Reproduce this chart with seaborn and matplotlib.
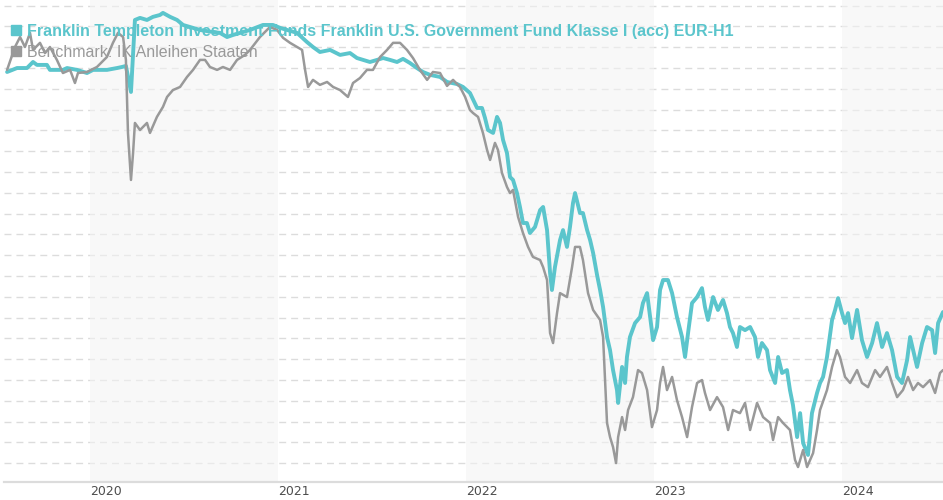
import pandas as pd
import matplotlib
matplotlib.use("Agg")
import matplotlib.pyplot as plt
import seaborn as sns
from matplotlib.lines import Line2D

# fund and benchmark (decimal year, indexed value)
fund_years = [2019.559, 2019.612, 2019.665, 2019.697, 2019.718, 2019.771, 2019.787, 2019.856, 2019.878, 2019.931,
              2019.984, 2020.016, 2020.090, 2020.144, 2020.170, 2020.191, 2020.218, 2020.239, 2020.266, 2020.303,
              2020.335, 2020.372, 2020.388, 2020.426, 2020.463, 2020.495, 2020.532, 2020.585, 2020.654, 2020.691,
              2020.729, 2020.761, 2020.851, 2020.920, 2020.973, 2021.011, 2021.101, 2021.154, 2021.186, 2021.223,
              2021.277, 2021.330, 2021.383, 2021.420, 2021.452, 2021.489, 2021.527, 2021.559, 2021.596, 2021.633,
              2021.665, 2021.702, 2021.739, 2021.771, 2021.809, 2021.862, 2021.899, 2021.952, 2021.984, 2022.021,
              2022.059, 2022.085, 2022.101, 2022.117, 2022.144, 2022.165, 2022.181, 2022.197, 2022.218, 2022.234,
              2022.250, 2022.271, 2022.287, 2022.303, 2022.324, 2022.340, 2022.367, 2022.394, 2022.410, 2022.431,
              2022.447, 2022.457, 2022.473, 2022.500, 2022.516, 2022.537, 2022.553, 2022.569, 2022.580, 2022.606,
              2022.622, 2022.644, 2022.660, 2022.676, 2022.697, 2022.713, 2022.729, 2022.750, 2022.766, 2022.782,
              2022.803, 2022.809, 2022.830, 2022.846, 2022.856, 2022.872, 2022.899, 2022.926, 2022.941, 2022.963,
              2022.979, 2022.995, 2023.016, 2023.032, 2023.048, 2023.074, 2023.096, 2023.122, 2023.149, 2023.165,
              2023.181, 2023.202, 2023.229, 2023.255, 2023.271, 2023.287, 2023.314, 2023.340, 2023.367, 2023.388,
              2023.404, 2023.420, 2023.441, 2023.457, 2023.484, 2023.511, 2023.537, 2023.553, 2023.574, 2023.601,
              2023.617, 2023.644, 2023.660, 2023.681, 2023.707, 2023.723, 2023.739, 2023.761, 2023.777, 2023.793,
              2023.819, 2023.840, 2023.867, 2023.883, 2023.899, 2023.920, 2023.947, 2023.963, 2023.979, 2024.000,
              2024.016, 2024.032, 2024.053, 2024.080, 2024.106, 2024.133, 2024.160, 2024.186, 2024.213, 2024.239,
              2024.266, 2024.293, 2024.319, 2024.346, 2024.362, 2024.378, 2024.399, 2024.426, 2024.452, 2024.479,
              2024.495, 2024.511, 2024.537]
fund_values = [96.81, 97.00, 97.00, 97.29, 97.15, 97.15, 96.91, 96.91, 97.00, 96.91,
               96.76, 96.91, 96.91, 97.00, 97.05, 97.10, 95.85, 99.31, 99.41, 99.31,
               99.46, 99.55, 99.65, 99.46, 99.31, 99.07, 98.97, 98.83, 98.73, 98.69,
               98.49, 98.59, 98.83, 99.07, 99.07, 98.93, 98.69, 98.25, 98.01, 97.77,
               97.87, 97.63, 97.72, 97.48, 97.39, 97.29, 97.39, 97.48, 97.39, 97.29,
               97.44, 97.24, 97.00, 96.81, 96.67, 96.57, 96.33, 96.23, 96.09, 95.80,
               95.08, 95.08, 94.60, 94.02, 93.88, 94.65, 94.36, 93.54, 92.91, 91.76,
               91.62, 90.99, 90.32, 89.55, 89.55, 89.07, 89.36, 90.17, 90.32, 89.21,
               87.15, 86.33, 87.43, 88.73, 89.21, 88.40, 89.36, 90.51, 90.99, 90.03,
               90.03, 89.21, 88.73, 88.11, 87.05, 86.33, 85.51, 84.07, 83.44, 82.48,
               81.52, 80.90, 82.63, 81.86, 83.11, 84.07, 84.74, 85.03, 85.70, 86.18,
               85.03, 83.92, 84.55, 86.33, 86.81, 86.81, 86.18, 85.03, 84.07, 83.11,
               84.26, 85.70, 85.99, 86.42, 85.51, 84.89, 85.99, 85.37, 85.85, 85.22,
               84.55, 84.26, 83.59, 84.55, 84.40, 84.55, 84.07, 83.11, 83.78, 83.44,
               82.48, 81.86, 83.11, 82.34, 82.48, 81.52, 80.80, 79.26, 80.41, 78.97,
               78.40, 80.41, 81.38, 81.86, 82.15, 83.11, 84.89, 85.37, 85.94, 85.22,
               84.74, 85.22, 84.02, 85.37, 83.92, 83.11, 83.78, 84.74, 83.59, 84.26,
               83.44, 82.15, 81.86, 82.96, 84.07, 83.44, 82.63, 83.78, 84.55, 84.40,
               83.30, 84.74, 85.27]

bench_years = [2019.559, 2019.601, 2019.628, 2019.654, 2019.681, 2019.697, 2019.734, 2019.761, 2019.787, 2019.824,
               2019.856, 2019.894, 2019.920, 2019.936, 2019.984, 2020.037, 2020.090, 2020.122, 2020.149, 2020.176,
               2020.191, 2020.202, 2020.218, 2020.229, 2020.239, 2020.266, 2020.303, 2020.319, 2020.356, 2020.388,
               2020.410, 2020.441, 2020.479, 2020.516, 2020.548, 2020.585, 2020.612, 2020.638, 2020.676, 2020.707,
               2020.745, 2020.782, 2020.824, 2020.851, 2020.904, 2020.957, 2020.995, 2021.027, 2021.064, 2021.101,
               2021.128, 2021.144, 2021.160, 2021.186, 2021.223, 2021.261, 2021.293, 2021.330, 2021.372, 2021.399,
               2021.436, 2021.473, 2021.505, 2021.543, 2021.580, 2021.612, 2021.649, 2021.686, 2021.718, 2021.755,
               2021.793, 2021.824, 2021.862, 2021.899, 2021.931, 2021.968, 2021.995, 2022.021, 2022.037, 2022.064,
               2022.090, 2022.112, 2022.128, 2022.154, 2022.170, 2022.191, 2022.218, 2022.234, 2022.250, 2022.277,
               2022.303, 2022.330, 2022.356, 2022.394, 2022.410, 2022.431, 2022.447, 2022.463, 2022.484, 2022.500,
               2022.537, 2022.564, 2022.580, 2022.606, 2022.622, 2022.649, 2022.676, 2022.713, 2022.729, 2022.739,
               2022.750, 2022.766, 2022.782, 2022.798, 2022.809, 2022.830, 2022.846, 2022.862, 2022.888, 2022.915,
               2022.936, 2022.963, 2022.989, 2023.016, 2023.032, 2023.048, 2023.069, 2023.096, 2023.122, 2023.149,
               2023.176, 2023.202, 2023.229, 2023.255, 2023.271, 2023.298, 2023.335, 2023.367, 2023.394, 2023.420,
               2023.457, 2023.484, 2023.511, 2023.548, 2023.580, 2023.617, 2023.633, 2023.660, 2023.686, 2023.723,
               2023.750, 2023.766, 2023.793, 2023.814, 2023.846, 2023.867, 2023.883, 2023.920, 2023.947, 2023.973,
               2023.989, 2024.016, 2024.043, 2024.080, 2024.106, 2024.138, 2024.176, 2024.202, 2024.239, 2024.266,
               2024.293, 2024.324, 2024.351, 2024.378, 2024.404, 2024.431, 2024.468, 2024.495, 2024.521, 2024.537]
bench_values = [96.91, 98.01, 98.49, 98.01, 98.69, 97.87, 98.21, 97.72, 98.01, 97.39,
                96.76, 96.91, 96.28, 96.76, 96.81, 97.05, 97.53, 98.21, 98.69, 98.49,
                97.39, 93.88, 91.62, 92.91, 94.36, 94.02, 94.36, 93.88, 94.65, 95.13,
                95.61, 95.94, 96.09, 96.57, 96.91, 97.39, 97.39, 97.05, 96.91, 97.05,
                96.91, 97.39, 97.63, 97.87, 98.49, 98.97, 98.83, 98.45, 98.21, 98.01,
                97.87, 96.91, 96.09, 96.43, 96.19, 96.33, 96.09, 95.94, 95.61, 96.28,
                96.52, 96.91, 96.91, 97.53, 97.87, 98.21, 98.21, 97.87, 97.48, 96.91,
                96.43, 96.81, 96.76, 96.14, 96.43, 96.09, 95.61, 94.98, 94.84, 94.65,
                93.88, 93.06, 92.58, 93.40, 93.06, 91.96, 91.28, 90.99, 91.14, 89.84,
                89.07, 88.40, 87.92, 87.77, 87.43, 86.81, 84.26, 83.78, 85.22, 86.18,
                85.99, 87.43, 88.40, 88.40, 87.77, 86.18, 85.37, 84.89, 84.07, 82.15,
                79.94, 79.26, 78.78, 78.01, 79.26, 80.22, 79.60, 80.56, 81.18, 82.48,
                82.34, 81.52, 79.74, 80.56, 81.86, 82.63, 81.52, 82.15, 81.04, 80.22,
                79.26, 80.70, 81.86, 82.00, 81.38, 80.56, 81.18, 80.70, 79.60, 80.56,
                80.41, 80.90, 79.60, 80.90, 80.22, 79.94, 79.12, 80.22, 79.94, 79.60,
                78.16, 77.82, 78.64, 77.82, 78.49, 79.60, 80.56, 81.52, 82.63, 83.44,
                83.11, 82.15, 81.86, 82.48, 81.86, 81.66, 82.48, 82.15, 82.63, 81.86,
                81.18, 81.52, 82.15, 81.52, 81.86, 81.66, 82.00, 81.38, 82.34, 82.48]

years = [2020, 2021, 2022, 2023, 2024]
shaded_years = [2020, 2022, 2024]
fund_name = "Franklin Templeton Investment Funds Franklin U.S. Government Fund Klasse I (acc) EUR-H1"
bench_name = "Benchmark: IK Anleihen Staaten"

teal = "#5bc5cc"
grey = "#999999"


def to_date(y):
    return pd.Timestamp("2020-01-01") + pd.to_timedelta((y - 2020) * 365.25, unit="D")


fund = pd.DataFrame({"date": [to_date(y) for y in fund_years], "value": fund_values})
bench = pd.DataFrame({"date": [to_date(y) for y in bench_years], "value": bench_values})

sns.set_style("white")
plt.rcParams["font.family"] = ["Liberation Sans", "DejaVu Sans"]

fig = plt.figure(figsize=(9.43, 5.0), dpi=100)
ax = fig.add_axes([4 / 943, 18 / 500, 939 / 943, 482 / 500])

sns.lineplot(data=fund, x="date", y="value", color=teal, lw=2.8, ax=ax)
sns.lineplot(data=bench, x="date", y="value", color=grey, lw=1.8, ax=ax)

# alternating year bands, drawn over the grid so the dashes look lighter there
for yr in shaded_years:
    ax.axvspan(pd.Timestamp(f"{yr}-01-01"), pd.Timestamp(f"{yr + 1}-01-01"),
               color="#f4f4f4", alpha=0.55, lw=0, zorder=1)

ax.set_xlim(to_date(2019.5426), to_date(2024.537))
ax.set_ylim(77.10, 100.27)
ax.set_yticks(range(78, 101))
ax.set_yticklabels([])
ax.set_axisbelow(True)
ax.yaxis.grid(True, color="#dcdcdc", linestyle=(0, (5, 3.6)), lw=1.0)
ax.xaxis.grid(False)

ax.set_xticks([pd.Timestamp(f"{y}-01-01") for y in years])
ax.set_xticklabels([str(y) for y in years], ha="left", color="#4d4d4d", fontsize=9,
                   family="DejaVu Sans")
ax.tick_params(axis="both", length=0)
ax.tick_params(axis="x", pad=2.5)
ax.set_xlabel("")
ax.set_ylabel("")

for side in ["top", "right", "left"]:
    ax.spines[side].set_visible(False)
ax.spines["bottom"].set_color("#dcdcdc")
ax.spines["bottom"].set_linewidth(1.6)

handles = [Line2D([], [], marker="s", ls="", color=teal, markersize=7.5),
           Line2D([], [], marker="s", ls="", color=grey, markersize=7.5)]
leg = ax.legend(handles, [fund_name, bench_name], loc="upper left", bbox_to_anchor=(0.0, 0.964),
                frameon=False, fontsize=11.5, handlelength=0.7, handletextpad=0.35,
                labelspacing=0.38, borderpad=0.2, borderaxespad=0.2)
texts = leg.get_texts()
texts[0].set_color(teal)
texts[0].set_fontweight("bold")
texts[1].set_color(grey)

fig.savefig("out.png", dpi=100)
